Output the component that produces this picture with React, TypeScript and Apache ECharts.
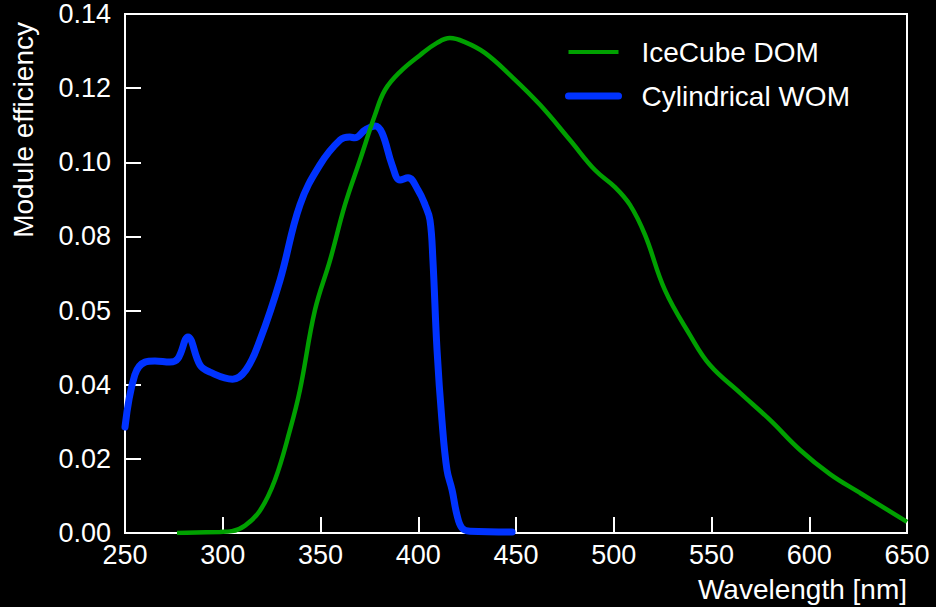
import React, { useEffect, useRef } from "react";
import * as echarts from "echarts";

const FONT = "'Liberation Sans', Arial, Helvetica, sans-serif";

const yTickLabels = ["0.00", "0.02", "0.04", "0.05", "0.08", "0.10", "0.12", "0.14"];

const iceCubeWavelength = [
  276.6, 298.6, 304.7, 311.4, 319, 326.7, 334.4, 339.5, 347.2, 354.9, 362.5, 370.2, 377.9, 383,
  390.7, 400.9, 409.6, 416.2, 423.9, 434.1, 447, 462.3, 477.6, 490.4, 500.6, 508.3, 516, 526.2,
  539, 549.2, 564.6, 579.9, 595.3, 610.6, 626, 650,
];
const iceCubeEfficiency = [
  0, 0.0003, 0.0005, 0.002, 0.006, 0.0143, 0.0278, 0.0386, 0.0602, 0.0736, 0.0885, 0.1006, 0.1128,
  0.1195, 0.1244, 0.1289, 0.1322, 0.1335, 0.1324, 0.1295, 0.1235, 0.1155, 0.106, 0.0979, 0.0933,
  0.0885, 0.0804, 0.0655, 0.0534, 0.0453, 0.0378, 0.0305, 0.0224, 0.0159, 0.0108, 0.003,
];

const womWavelength = [
  250, 255, 260.2, 265.3, 273, 277, 282.2, 288.4, 293.5, 305, 311.9, 319, 329.3, 339.5, 349.7, 360,
  365, 367.6, 372.8, 377.9, 381.5, 386.6, 390.7, 394.8, 399.9, 403.5, 406, 407.5, 409.6, 412.1,
  414.7, 417.3, 419.8, 422.4, 426.5, 448,
];
const womEfficiency = [
  0.0286, 0.0426, 0.0461, 0.0464, 0.0461, 0.047, 0.0529, 0.0453, 0.0434, 0.0415, 0.044, 0.052,
  0.0682, 0.0885, 0.0993, 0.106, 0.1068, 0.1066, 0.1087, 0.1098, 0.1079, 0.0993, 0.0952, 0.0958,
  0.0925, 0.0885, 0.0844, 0.0736, 0.0494, 0.0305, 0.017, 0.0116, 0.0049, 0.0013, 0.0005, 0.0003,
];

const GREEN = "#00a000";
const BLUE = "#0033ff";

const zip = (xs: number[], ys: number[]) => xs.map((x, i) => [x, ys[i]]);

export default function App() {
  const ref = useRef<HTMLDivElement>(null);
  useEffect(() => {
    if (!ref.current) return;
    const chart = echarts.init(ref.current, null, { renderer: "svg" });
    chart.setOption({
      animation: false,
      backgroundColor: "#000000",
      textStyle: { fontFamily: FONT },
      grid: {
        left: 125,
        right: 29,
        top: 14,
        bottom: 74,
        show: true,
        borderColor: "#ffffff",
        borderWidth: 2,
        containLabel: false,
      },
      legend: {
        orient: "vertical",
        left: 560,
        top: 33,
        itemWidth: 50,
        itemHeight: 14,
        itemGap: 16,
        itemStyle: { opacity: 0 },
        textStyle: {
          color: "#ffffff",
          fontSize: 28,
          lineHeight: 28,
          fontFamily: FONT,
          padding: [0, 0, 0, 18],
        },
        data: [
          { name: "IceCube DOM", lineStyle: { width: 4, color: GREEN } },
          { name: "Cylindrical WOM", lineStyle: { width: 7, color: BLUE } },
        ],
      },
      xAxis: {
        type: "value",
        min: 250,
        max: 650,
        interval: 50,
        name: "Wavelength [nm]",
        nameLocation: "end",
        nameGap: 0,
        nameTextStyle: {
          color: "#ffffff",
          fontSize: 28,
          fontFamily: FONT,
          align: "right",
          verticalAlign: "top",
          padding: [42, 0, 0, 0],
        },
        axisLine: { show: true, lineStyle: { color: "#ffffff", width: 2 } },
        axisTick: { show: true, inside: true, length: 16, lineStyle: { color: "#ffffff", width: 2 } },
        axisLabel: { color: "#ffffff", fontSize: 27, margin: 8, fontFamily: FONT },
        splitLine: { show: false },
      },
      yAxis: {
        type: "value",
        min: 0,
        max: 0.14,
        interval: 0.02,
        axisLine: { show: true, lineStyle: { color: "#ffffff", width: 2 } },
        axisTick: { show: true, inside: true, length: 16, lineStyle: { color: "#ffffff", width: 2 } },
        axisLabel: {
          color: "#ffffff",
          fontSize: 27,
          margin: 14,
          fontFamily: FONT,
          formatter: (v: number) => yTickLabels[Math.round(v / 0.02)] ?? "",
        },
        splitLine: { show: false },
      },
      graphic: [
        {
          type: "text",
          x: 23,
          y: 22,
          rotation: Math.PI / 2,
          style: {
            text: "Module efficiency",
            fill: "#ffffff",
            fontSize: 28,
            fontFamily: FONT,
            align: "right",
            verticalAlign: "middle",
          },
        },
      ],
      series: [
        {
          name: "IceCube DOM",
          type: "line",
          data: zip(iceCubeWavelength, iceCubeEfficiency),
          smooth: 0.4,
          showSymbol: false,
          symbol: "none",
          lineStyle: { color: GREEN, width: 4.5 },
          itemStyle: { color: GREEN },
          z: 3,
        },
        {
          name: "Cylindrical WOM",
          type: "line",
          data: zip(womWavelength, womEfficiency),
          smooth: 0.4,
          showSymbol: false,
          symbol: "none",
          lineStyle: { color: BLUE, width: 7, cap: "round" },
          itemStyle: { color: BLUE },
          z: 2,
        },
      ],
    });
    return () => chart.dispose();
  }, []);
  return (
    <div
      ref={ref}
      style={{ position: "fixed", left: 0, top: 0, width: 936, height: 607 }}
    />
  );
}
